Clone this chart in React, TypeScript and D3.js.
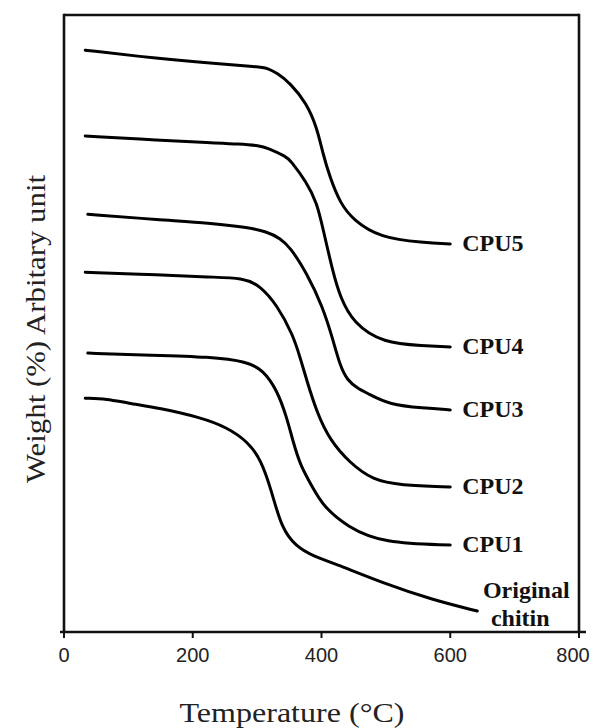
import React from "react";
import * as d3 from "d3";

// ---- Data ----
const X_TICKS = [0, 200, 400, 600, 800];

const CPU5_T = [33, 149, 227, 304, 315, 331, 351, 377, 393, 402, 413, 429, 449, 491, 558, 600];
const CPU5_W = [94.3, 92.9, 92.2, 91.6, 91.4, 90.6, 89.0, 85.7, 81.7, 77.6, 73.7, 69.5, 66.8, 63.9, 63.1, 62.9];

const CPU4_T = [33, 149, 227, 273, 304, 315, 346, 351, 377, 393, 402, 418, 429, 449, 496, 558, 600];
const CPU4_W = [80.4, 79.7, 79.3, 79.1, 78.8, 78.5, 77.0, 76.5, 72.9, 69.5, 65.5, 58.2, 54.3, 50.1, 46.8, 46.4, 46.2];

const CPU3_T = [37, 149, 227, 284, 315, 336, 351, 377, 402, 418, 429, 440, 456, 471, 506, 558, 600];
const CPU3_W = [67.7, 66.8, 66.3, 65.6, 64.9, 63.8, 62.4, 58.2, 52.7, 47.3, 43.1, 40.8, 39.5, 38.7, 36.8, 36.3, 36.0];

const CPU2_T = [33, 149, 227, 278, 304, 331, 356, 367, 377, 393, 413, 444, 480, 522, 600];
const CPU2_W = [58.3, 57.9, 57.5, 57.4, 56.2, 53.0, 48.1, 44.4, 40.8, 35.5, 31.1, 27.4, 24.6, 23.8, 23.5];

const CPU1_T = [37, 118, 231, 284, 309, 331, 346, 356, 367, 387, 402, 440, 496, 600];
const CPU1_W = [45.2, 44.9, 44.6, 43.8, 42.5, 39.2, 34.8, 30.8, 27.0, 23.3, 20.5, 17.0, 14.4, 14.1];

const CHITIN_T = [33, 67, 98, 149, 211, 253, 286, 306, 322, 338, 360, 387, 418, 496, 573, 642];
const CHITIN_W = [37.9, 37.8, 37.1, 36.3, 34.8, 33.2, 30.8, 27.9, 23.0, 16.8, 13.9, 12.3, 11.2, 7.9, 5.2, 3.4];

const SERIES_NAMES = ["CPU5", "CPU4", "CPU3", "CPU2", "CPU1"];

// ---- Layout ----
const W = 593;
const H = 728;
const LEFT = 64;
const RIGHT = 579;
const TOP = 15;
const BOTTOM = 632;

export default function App() {
  const x = d3.scaleLinear().domain([0, 800]).range([LEFT, RIGHT]);
  const y = d3.scaleLinear().domain([0, 100]).range([BOTTOM, TOP]);

  const line = d3
    .line<[number, number]>()
    .x((d) => x(d[0]))
    .y((d) => y(d[1]))
    .curve(d3.curveBasis);

  const zip = (t: number[], w: number[]) => t.map((v, i) => [v, w[i]] as [number, number]);

  const cpuSeries = [
    zip(CPU5_T, CPU5_W),
    zip(CPU4_T, CPU4_W),
    zip(CPU3_T, CPU3_W),
    zip(CPU2_T, CPU2_W),
    zip(CPU1_T, CPU1_W),
  ];
  const chitin = zip(CHITIN_T, CHITIN_W);
  const chitinEnd = chitin[chitin.length - 1];

  const serif = "'Liberation Serif', 'Times New Roman', serif";
  const sans = "'Liberation Sans', Arial, sans-serif";

  return (
    <svg
      width={W}
      height={H}
      style={{ position: "absolute", left: 0, top: 0, background: "#fff" }}
    >
      <rect x={0} y={0} width={W} height={H} fill="#fff" />
      {/* frame */}
      <line x1={LEFT} y1={TOP} x2={RIGHT} y2={TOP} stroke="#111" strokeWidth={2.6} />
      <line x1={LEFT} y1={TOP - 1.3} x2={LEFT} y2={BOTTOM} stroke="#111" strokeWidth={2.6} />
      <line x1={RIGHT} y1={TOP - 1.3} x2={RIGHT} y2={BOTTOM} stroke="#111" strokeWidth={2.6} />
      <line x1={LEFT - 4} y1={BOTTOM} x2={RIGHT + 7} y2={BOTTOM} stroke="#111" strokeWidth={2.6} />

      {/* x ticks */}
      {X_TICKS.map((t) => (
        <g key={t}>
          <line x1={x(t)} y1={BOTTOM} x2={x(t)} y2={BOTTOM + 6} stroke="#111" strokeWidth={2} />
          <text
            x={Math.min(x(t), W - 20)}
            y={BOTTOM + 30}
            textAnchor="middle"
            fontFamily={sans}
            fontSize={20}
            fill="#222"
          >
            {t}
          </text>
        </g>
      ))}

      {/* curves */}
      {cpuSeries.map((s, i) => (
        <path
          key={SERIES_NAMES[i]}
          d={line(s) || ""}
          fill="none"
          stroke="#000"
          strokeWidth={3}
          strokeLinejoin="round"
          strokeLinecap="round"
        />
      ))}
      <path
        d={line(chitin) || ""}
        fill="none"
        stroke="#000"
        strokeWidth={3}
        strokeLinejoin="round"
        strokeLinecap="round"
      />

      {/* series labels */}
      {cpuSeries.map((s, i) => {
        const last = s[s.length - 1];
        return (
          <text
            key={"l" + SERIES_NAMES[i]}
            x={x(last[0]) + 12}
            y={y(last[1])}
            dy="0.3em"
            fontFamily={serif}
            fontWeight="bold"
            fontSize={24}
            fill="#111"
          >
            {SERIES_NAMES[i]}
          </text>
        );
      })}
      <text
        x={x(chitinEnd[0]) + 49}
        y={y(chitinEnd[1]) - 13}
        textAnchor="middle"
        fontFamily={serif}
        fontWeight="bold"
        fontSize={24}
        fill="#111"
      >
        Original
      </text>
      <text
        x={x(chitinEnd[0]) + 43}
        y={y(chitinEnd[1]) + 15}
        textAnchor="middle"
        fontFamily={serif}
        fontWeight="bold"
        fontSize={24}
        fill="#111"
      >
        chitin
      </text>

      {/* axis titles */}
      <text
        x={292}
        y={722}
        textAnchor="middle"
        fontFamily={serif}
        fontSize={27}
        fill="#222"
        textLength={225}
        lengthAdjust="spacingAndGlyphs"
      >
        Temperature (°C)
      </text>
      <text
        transform="translate(45,329) rotate(-90)"
        textAnchor="middle"
        fontFamily={serif}
        fontSize={27}
        fill="#222"
        textLength={308}
        lengthAdjust="spacingAndGlyphs"
      >
        Weight (%) Arbitary unit
      </text>
    </svg>
  );
}
